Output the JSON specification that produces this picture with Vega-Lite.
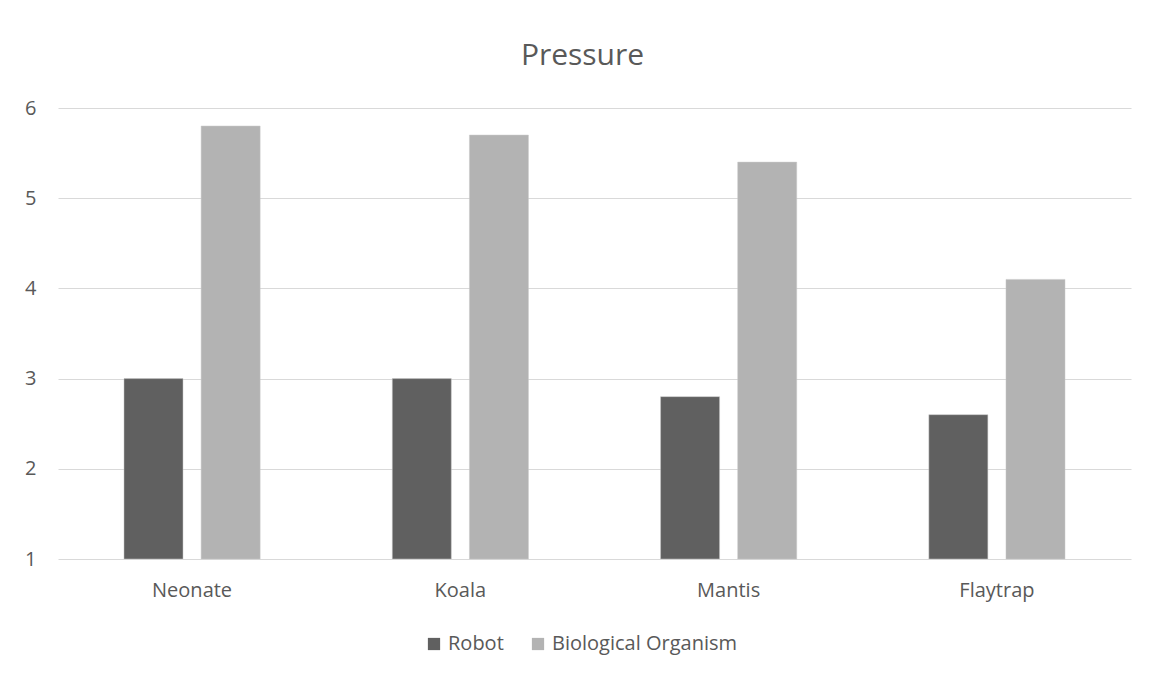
{
  "$schema": "https://vega.github.io/schema/vega-lite/v6.json",
  "autosize": "none",
  "width": 1073,
  "height": 451,
  "padding": {"left": 58, "top": 108, "right": 24, "bottom": 117},
  "background": "white",
  "title": {"text": "Pressure", "fontSize": 30, "font": "Open Sans", "fontWeight": "normal", "color": "#595959", "offset": 27, "dx": -12},
  "data": {"values": [
    {"animal": "Neonate", "series": "Robot", "value": 3.0},
    {"animal": "Neonate", "series": "Biological Organism", "value": 5.8},
    {"animal": "Koala", "series": "Robot", "value": 3.0},
    {"animal": "Koala", "series": "Biological Organism", "value": 5.7},
    {"animal": "Mantis", "series": "Robot", "value": 2.8},
    {"animal": "Mantis", "series": "Biological Organism", "value": 5.4},
    {"animal": "Flaytrap", "series": "Robot", "value": 2.6},
    {"animal": "Flaytrap", "series": "Biological Organism", "value": 4.1}
  ]},
  "mark": {"type": "bar", "stroke": "#c8c8c8", "strokeWidth": 0.5},
  "encoding": {
    "x": {
      "field": "animal", "type": "nominal", "sort": ["Neonate", "Koala", "Mantis", "Flaytrap"],
      "scale": {"paddingInner": 0.4925, "paddingOuter": 0.246},
      "axis": {"title": null, "labelAngle": 0, "ticks": false, "domain": false, "labelPadding": 21, "labelFontSize": 20, "labelFont": "Open Sans", "labelColor": "#595959"}
    },
    "xOffset": {
      "field": "series", "type": "nominal", "sort": ["Robot", "Biological Organism"],
      "scale": {"paddingInner": 0.235, "paddingOuter": 0}
    },
    "y": {
      "field": "value", "type": "quantitative",
      "scale": {"domain": [1, 6], "zero": false, "nice": false},
      "axis": {"title": null, "values": [1, 2, 3, 4, 5, 6], "ticks": false, "domain": false, "labelPadding": 22, "labelFontSize": 20, "labelFont": "Open Sans", "labelColor": "#595959", "gridColor": "#d9d9d9", "gridWidth": 1}
    },
    "y2": {"datum": 1},
    "color": {
      "field": "series", "type": "nominal", "sort": ["Robot", "Biological Organism"],
      "scale": {"domain": ["Robot", "Biological Organism"], "range": ["#606060", "#b3b3b3"]},
      "legend": {"title": null, "orient": "none", "legendX": 366, "legendY": 526, "direction": "horizontal", "symbolType": "square", "symbolSize": 150, "symbolStrokeWidth": 0, "labelFontSize": 20, "labelFont": "Open Sans", "labelColor": "#595959", "labelOffset": 4, "labelLimit": 400, "columnPadding": 24}
    }
  },
  "config": {"view": {"stroke": null}}
}
